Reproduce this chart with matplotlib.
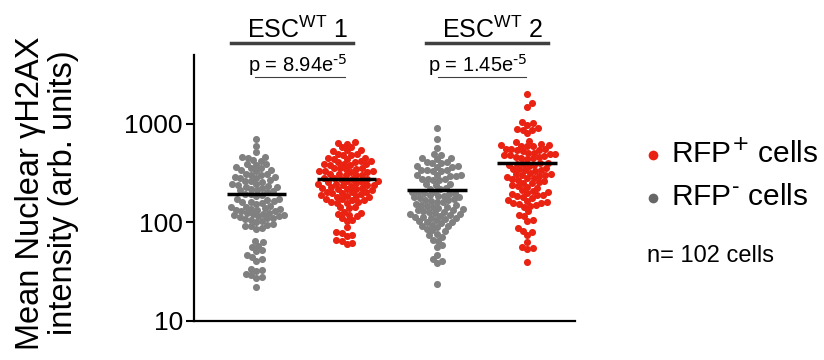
import matplotlib
matplotlib.use("Agg")
import matplotlib.pyplot as plt
from matplotlib.lines import Line2D
import numpy as np

plt.rcParams['font.family'] = ['Liberation Sans', 'DejaVu Sans']

rfp_neg_1 = [700, 590, 513, 465, 460, 455, 428, 422, 394, 390, 386,
             363, 360, 357, 340, 337, 334, 311, 308, 305, 302,
             290, 287, 284, 281, 269, 266, 263, 260, 246, 243, 240, 237,
             230, 227, 224, 221, 214, 211, 208, 205, 196, 193, 190, 187,
             174, 171, 168, 165, 162, 160, 158, 155, 148, 145, 142, 140,
             138, 137, 135, 133, 131, 130, 126, 124, 123, 121, 120, 118,
             116, 115, 113, 111, 110, 108, 106, 104, 102, 97, 95, 93, 91, 88, 86,
             65, 63, 58, 56, 52, 51, 47, 45, 43, 41, 34, 33, 32, 30, 29, 28, 27, 22]
rfp_pos_1 = [650, 640, 632, 585, 576, 545, 540, 535, 496, 492, 488, 484,
             452, 448, 444, 440, 422, 418, 414, 410, 395, 392, 389, 386, 383,
             360, 357, 354, 351, 348, 335, 332, 329, 326, 323, 312, 309, 306, 303, 300,
             285, 282, 279, 276, 273, 265, 262, 259, 256, 253,
             248, 245, 242, 240, 238, 236, 228, 225, 222, 220, 218, 216, 213,
             206, 204, 202, 200, 198, 196, 188, 186, 184, 182, 180,
             174, 172, 170, 168, 163, 161, 159, 157, 145, 142, 139, 129, 126, 123,
             118, 115, 112, 106, 104, 89, 80, 78, 75, 73, 67, 65, 62, 60]
rfp_neg_2 = [900, 710, 575, 495, 486, 452, 446, 440, 412, 408, 404, 400,
             376, 372, 368, 364, 343, 340, 337, 334, 331, 306, 303, 300, 297, 294,
             279, 276, 273, 270, 267, 247, 243, 239, 225, 221, 217,
             206, 204, 202, 200, 198, 196, 188, 186, 184, 182, 180, 178,
             171, 169, 167, 165, 163, 161, 153, 151, 149, 147, 145, 143,
             139, 137, 135, 133, 131, 129, 127, 125, 123, 121, 119, 117,
             114, 113, 112, 110, 108, 105, 103, 102, 100, 98, 95, 93, 91, 89,
             85, 83, 81, 76, 74, 72, 67, 65, 59, 57, 47, 43, 41, 39, 23.5]
rfp_pos_2 = [2000, 1620, 1500, 1040, 1010, 985, 900, 885, 870, 860, 800, 670, 655,
             620, 614, 608, 602, 596, 590, 562, 556, 550, 544, 538, 532,
             512, 506, 500, 494, 488, 482, 468, 463, 458, 453, 448, 443,
             405, 400, 395, 390, 385, 380, 375, 355, 351, 347, 343, 339, 335,
             316, 312, 308, 304, 300, 296, 287, 284, 280, 276, 272,
             262, 258, 254, 250, 238, 234, 230, 226, 212, 208, 204, 200,
             194, 191, 188, 185, 182, 179, 168, 165, 162, 159, 156, 153, 150, 147, 144,
             130, 120, 116, 107, 103, 87, 82, 80, 74, 63, 56, 55, 54, 40]

columns = [rfp_neg_1, rfp_pos_1, rfp_neg_2, rfp_pos_2]
grey = '#808080'
red = '#ea2212'
col_colors = [grey, red, grey, red]
groups = ['ESC$^{\\mathregular{WT}}$ 1', 'ESC$^{\\mathregular{WT}}$ 2']
pvals = ['p = 8.94e$^{\\text{-5}}$', 'p = 1.45e$^{\\text{-5}}$']


def swarm(vals, ax, xc, d):
    # greedy beeswarm worked out in pixel space
    tr = ax.transData
    ypix = tr.transform(np.column_stack([np.full(len(vals), xc), vals]))[:, 1]
    order = np.argsort(ypix)
    placed = []
    xoff = np.zeros(len(vals))
    for i in order:
        y = ypix[i]
        near = [(px, py) for px, py in placed if abs(py - y) < d]
        cands = [0.0]
        for px, py in near:
            dx = np.sqrt(d * d - (py - y) ** 2)
            cands += [px + dx, px - dx]
        cands.sort(key=abs)
        for c in cands:
            if all((c - px) ** 2 + (y - py) ** 2 >= d * d - 1e-6 for px, py in near):
                xoff[i] = c
                placed.append((c, y))
                break
    x0 = tr.transform([(xc, 1)])[0, 0]
    x1 = tr.transform([(xc + 1, 1)])[0, 0]
    return xc + xoff / (x1 - x0)


fig = plt.figure(figsize=(8.24, 3.6), dpi=100)
W, H = 824, 360
ax = fig.add_axes([194 / W, 1 - 321 / H, (575 - 194) / W, (321 - 55) / H])
ax.set_yscale('log')
ax.set_xlim(-0.69, 3.53)
ax.set_ylim(10, 5000)

for i, vals in enumerate(columns):
    xs = swarm(vals, ax, i, 5.8)
    ax.scatter(xs, vals, s=26, color=col_colors[i], linewidths=0, zorder=2)
    # bar = mean of the column
    ax.hlines(np.mean(vals), i - 0.33, i + 0.33, color='black', lw=2.5, zorder=3)

ax.set_yticks([10, 100, 1000])
ax.set_yticklabels(['10', '100', '1000'])
ax.minorticks_off()
ax.set_xticks([])
ax.tick_params(axis='y', length=6, width=1.5, labelsize=19, pad=2)
for s in ['top', 'right']:
    ax.spines[s].set_visible(False)
for s in ['left', 'bottom']:
    ax.spines[s].set_linewidth(1.6)

fig.text(47 / W, 1 - 193 / H, 'Mean Nuclear \u03b3H2AX\nintensity (arb. units)',
         rotation=90, ha='center', va='center', fontsize=23.5, linespacing=1.05)

# group headers and p-values
for gx, lab, bar, pline in [(298, groups[0], (231, 353), (255, 345)),
                             (493, groups[1], (426, 548), (438, 526))]:
    fig.text(gx / W, 1 - 38 / H, lab, ha='center', va='baseline', fontsize=18)
    fig.add_artist(Line2D([bar[0] / W, bar[1] / W], [1 - 43 / H] * 2,
                          color='#404040', lw=2.5, transform=fig.transFigure))
    fig.add_artist(Line2D([pline[0] / W, pline[1] / W], [1 - 77 / H] * 2,
                          color='#404040', lw=0.8, transform=fig.transFigure))
for px, pv in [(248, pvals[0]), (428, pvals[1])]:
    fig.text(px / W, 1 - 72 / H, pv, ha='left', va='baseline', fontsize=14.5)

# legend
for yy, c, lab in [(155, red, 'RFP$^{+}$ cells'), (198, '#666666', 'RFP$^{\\text{-}}$ cells')]:
    fig.add_artist(Line2D([653 / W], [1 - yy / H], marker='o', markersize=7, color=c,
                          markeredgewidth=0, transform=fig.transFigure))
    fig.text(671 / W, 1 - (yy - 1) / H, lab, ha='left', va='center', fontsize=21.5)
fig.text(647 / W, 1 - 262 / H, 'n= 102 cells', ha='left', va='baseline', fontsize=17)

fig.savefig('out.png', dpi=100)
